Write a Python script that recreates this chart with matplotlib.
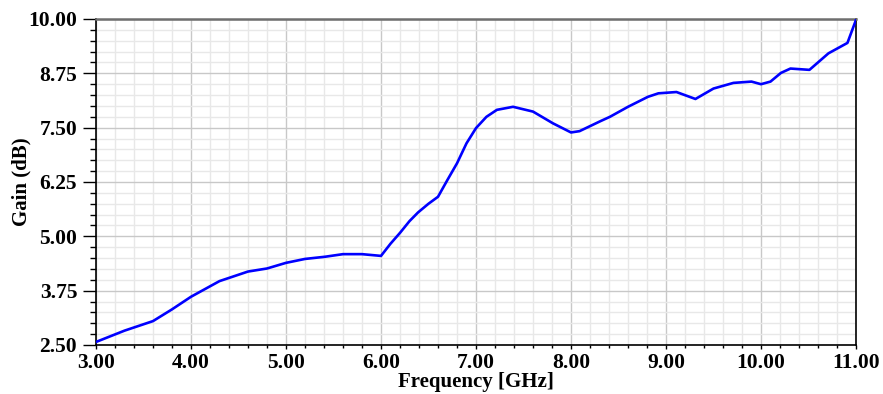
import matplotlib
matplotlib.use("Agg")
import matplotlib.pyplot as plt
from matplotlib.ticker import MultipleLocator, FormatStrFormatter

freq = [3.0, 3.3, 3.6, 3.8, 4.0, 4.3, 4.6, 4.8, 5.0, 5.2, 5.41, 5.6, 5.8, 6.0,
        6.1, 6.2, 6.3, 6.39, 6.5, 6.6, 6.7, 6.8, 6.9, 7.0, 7.11, 7.22, 7.39, 7.6, 7.81, 8.0,
        8.09, 8.31, 8.41, 8.6, 8.81, 8.92, 9.11, 9.31, 9.5, 9.71, 9.9, 10.0,
        10.1, 10.21, 10.31, 10.51, 10.71, 10.91, 11.0]
gain = [2.57, 2.83, 3.05, 3.32, 3.61, 3.97, 4.19, 4.26, 4.39, 4.48, 4.53, 4.59,
        4.59, 4.55, 4.83, 5.08, 5.35, 5.55, 5.75, 5.91, 6.3, 6.68, 7.14, 7.49, 7.75, 7.91, 7.98,
        7.87, 7.6, 7.39, 7.42, 7.65, 7.75, 7.98, 8.21, 8.29, 8.32, 8.16, 8.4,
        8.53, 8.56, 8.5, 8.56, 8.76, 8.86, 8.83, 9.21, 9.45, 9.98]

xlabel = "Frequency [GHz]"
ylabel = "Gain (dB)"

plt.rcParams['font.family'] = ['Liberation Serif', 'DejaVu Serif']
plt.rcParams['font.weight'] = 'bold'

fig = plt.figure(figsize=(8.83, 3.94), dpi=100)
ax = fig.add_axes([96/883, 49/394, 760/883, 326/394])

ax.plot(freq, gain, color='#0000ff', lw=1.9, solid_joinstyle='round', zorder=3)

ax.set_xlim(3, 11)
ax.set_ylim(2.5, 10)
ax.xaxis.set_major_locator(MultipleLocator(1.0))
ax.xaxis.set_minor_locator(MultipleLocator(0.2))
ax.yaxis.set_major_locator(MultipleLocator(1.25))
ax.yaxis.set_minor_locator(MultipleLocator(0.25))
ax.xaxis.set_major_formatter(FormatStrFormatter('%.2f'))
ax.yaxis.set_major_formatter(FormatStrFormatter('%.2f'))

ax.grid(which='major', color='#c8c8c8', lw=1.0, zorder=1)
ax.grid(which='minor', color='#e8e8e8', lw=1.0, zorder=0)
ax.set_axisbelow(True)

for s in ['left', 'bottom', 'right']:
    ax.spines[s].set_color('black')
    ax.spines[s].set_linewidth(1.2)
ax.spines['top'].set_color('#6e6e6e')
ax.spines['top'].set_linewidth(1.8)

ax.tick_params(axis='y', which='major', direction='out', length=9.5, width=1.0,
               color='black', labelsize=15.5, pad=4)
ax.tick_params(axis='y', which='minor', direction='out', length=4.5, width=1.0,
               color='black')
ax.tick_params(axis='x', which='major', direction='out', length=3, width=1.0,
               color='black', labelsize=15.5, pad=3)
ax.tick_params(axis='x', which='minor', direction='out', length=2.5, width=1.0,
               color='black')
for lab in ax.get_xticklabels() + ax.get_yticklabels():
    lab.set_fontweight('bold')

ax.set_xlabel(xlabel, fontsize=15, fontweight='bold', labelpad=-1)
ax.set_ylabel(ylabel, fontsize=15, fontweight='bold', labelpad=-2)

fig.savefig("out.png", dpi=100)
